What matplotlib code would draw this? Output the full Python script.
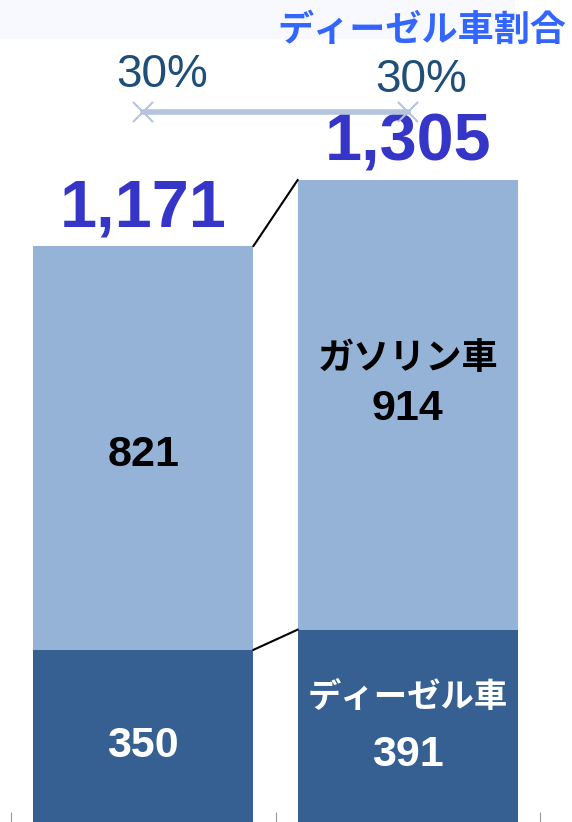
import matplotlib.pyplot as plt
from matplotlib.patches import Rectangle

plt.rcParams['font.family'] = ['Liberation Sans', 'Noto Sans CJK JP', 'DejaVu Sans']

# data
positions = [0, 1]
diesel = [350, 391]
gasoline = [821, 914]
totals = [1171, 1305]
diesel_share = ["30%", "30%"]

dark = "#366092"
light = "#95b3d7"
bar_w = 0.833

fig = plt.figure(figsize=(5.72, 8.22), dpi=100)
ax = fig.add_axes([0, 0, 1, 1])
ax.set_xlim(-0.542, 1.621)
ax.set_ylim(0, 1671)

# faint band at the top
ax.add_patch(Rectangle((0, 0.952), 0.9, 0.048, transform=ax.transAxes,
                       color="#f7f9fe", zorder=0, lw=0))

ax.bar(positions, diesel, width=bar_w, color=dark, zorder=2)
ax.bar(positions, gasoline, width=bar_w, bottom=diesel, color=light, zorder=2)

# connector lines between bars
x0 = positions[0] + bar_w / 2
x1 = positions[1] - bar_w / 2
ax.plot([x0, x1], [totals[0], totals[1]], color="black", lw=1.5, zorder=3)
ax.plot([x0, x1], [diesel[0], diesel[1]], color="black", lw=1.5, zorder=3)

# totals
for x, t in zip(positions, totals):
    ax.text(x, t + 12, f"{t:,}", ha="center", va="bottom", fontsize=48,
            fontweight="bold", color="#3535c8")

# segment labels
ax.text(0, diesel[0] + gasoline[0] / 2 - 14, f"{gasoline[0]}", ha="center", va="center",
        fontsize=31, fontweight="bold", color="black")
ax.text(0, diesel[0] / 2 - 20, f"{diesel[0]}", ha="center", va="center",
        fontsize=31, fontweight="bold", color="white")
ax.text(1, 940, "ガソリン車", ha="center", va="center", fontsize=26,
        fontweight="bold", color="black")
ax.text(1, 840, f"{gasoline[1]}", ha="center", va="center", fontsize=31,
        fontweight="bold", color="black")
ax.text(1, 253, "ディーゼル車", ha="center", va="center", fontsize=24,
        fontweight="bold", color="white")
ax.text(1, 137, f"{diesel[1]}", ha="center", va="center", fontsize=31,
        fontweight="bold", color="white")

# diesel share line
share_y = 1443
ax.plot(positions, [share_y, share_y], color="#b4c4dc", lw=4, marker="x",
        markersize=14, markeredgewidth=1.5, zorder=3)
ax.text(0.07, 1518, diesel_share[0], ha="center", va="center", fontsize=33,
        color="#1f4e79")
ax.text(1.05, 1508, diesel_share[1], ha="center", va="center", fontsize=33,
        color="#1f4e79")
ax.text(0.99, 0.985, "ディーゼル車割合", transform=ax.transAxes, ha="right",
        va="top", fontsize=26, fontweight="bold", color="#3366ff",
        family=["Noto Sans CJK JP"], zorder=4)

# category boundary ticks
ax.set_xticks([-0.5, 0.5, 1.5])
ax.set_xticklabels([])
ax.set_yticks([])
ax.tick_params(axis="x", direction="in", length=7, color="#999999")
for s in ax.spines.values():
    s.set_visible(False)

fig.savefig("out.png", dpi=100)
